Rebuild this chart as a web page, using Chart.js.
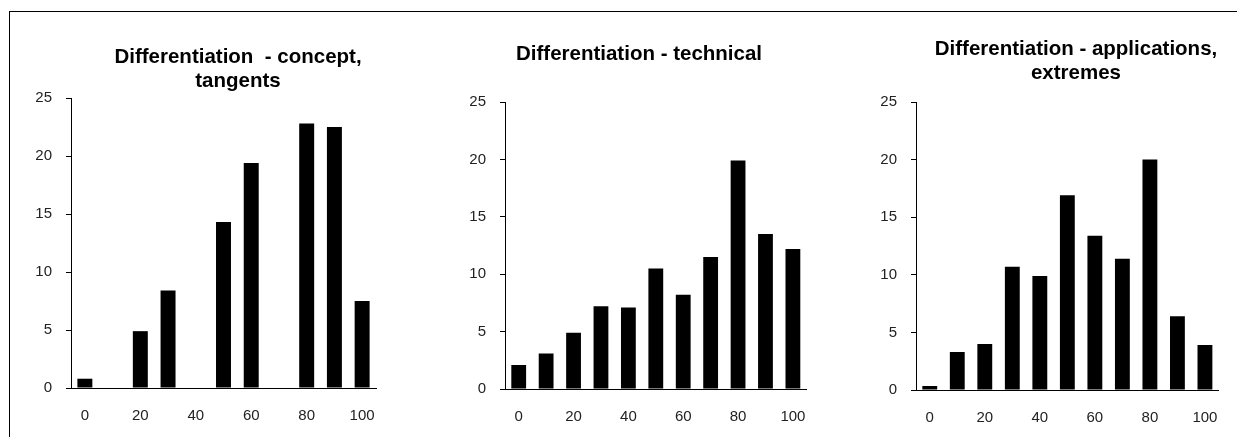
<!DOCTYPE html>
<html>
<head>
<meta charset="utf-8">
<script src="https://cdn.jsdelivr.net/npm/chart.js@4/dist/chart.umd.min.js"></script>
<style>
    body { margin: 0; background: #fff; width: 1237px; height: 437px; overflow: hidden; position: relative; }
    .frame { position: absolute; left: 9px; top: 11px; width: 1228px; height: 426px; border-top: 1px solid #000; border-left: 1px solid #000; }
    .chart-box { position: absolute; top: 12px; }
    .chart-title { position: absolute; width: 400px; text-align: center; white-space: pre; font: bold 20.5px "Liberation Sans", Arial, sans-serif; line-height: 24px; color: #000; }
</style>
</head>
<body>
<div class="frame"></div>
<canvas id="chart1" class="chart-box" width="400" height="425" style="left:10px"></canvas>
<canvas id="chart2" class="chart-box" width="405" height="425" style="left:420px"></canvas>
<canvas id="chart3" class="chart-box" width="407" height="425" style="left:830px"></canvas>

<script>
// Score bands (x axis)
const categories = [0, 10, 20, 30, 40, 50, 60, 70, 80, 90, 100];

// Percentage of students per band
const conceptTangents = [0.8, 0, 4.9, 8.4, 0, 14.3, 19.4, 0, 22.8, 22.5, 7.5];
const technical = [2.1, 3.1, 4.9, 7.2, 7.1, 10.5, 8.2, 11.5, 19.9, 13.5, 12.2];
const applicationsExtremes = [0.35, 3.3, 4.0, 10.7, 9.9, 16.9, 13.4, 11.4, 20.0, 6.4, 3.9];

// Y axis ticks
const yTicks = [0, 5, 10, 15, 20, 25];

const titles = [
    ['Differentiation  - concept,', 'tangents'],
    ['Differentiation - technical'],
    ['Differentiation - applications,', 'extremes']
];

// Layout of each panel (page pixels)
const panels = [
    { id: 'chart1', data: conceptTangents, titleX: 238, titleY: 44, pad: { left: 21, right: 34, top: 86, bottom: 9 } },
    { id: 'chart2', data: technical, titleX: 639, titleY: 41, pad: { left: 45, right: 13, top: 90, bottom: 8 } },
    { id: 'chart3', data: applicationsExtremes, titleX: 1076, titleY: 36, pad: { left: 46, right: 12, top: 90, bottom: 7 } }
];

const tickFont = { family: '"Liberation Sans", Arial, sans-serif', size: 15 };

function addTitle(lines, x, y) {
    const div = document.createElement('div');
    div.className = 'chart-title';
    div.style.left = (x - 200) + 'px';
    div.style.top = y + 'px';
    div.textContent = lines.join('\n');
    document.body.appendChild(div);
}

function drawPanel(panel, index) {
    addTitle(titles[index], panel.titleX, panel.titleY);

    new Chart(document.getElementById(panel.id), {
        type: 'bar',
        data: {
            labels: categories.map(String),
            datasets: [{
                data: panel.data,
                backgroundColor: '#000',
                borderWidth: 0,
                barPercentage: 0.54,
                categoryPercentage: 1
            }]
        },
        options: {
            responsive: false,
            animation: false,
            layout: { padding: panel.pad },
            plugins: {
                legend: { display: false },
                title: { display: false },
                tooltip: { enabled: false }
            },
            scales: {
                x: {
                    grid: { display: false, drawTicks: false },
                    border: { display: true, color: '#000', width: 1 },
                    ticks: {
                        autoSkip: false,
                        maxRotation: 0,
                        padding: 19,
                        color: '#222',
                        font: tickFont,
                        // only every other band gets a label
                        callback: function (value, i) {
                            return i % 2 === 0 ? this.getLabelForValue(value) : '';
                        }
                    },
                    afterFit: scale => { scale.height = 40; }
                },
                y: {
                    min: yTicks[0],
                    max: yTicks[yTicks.length - 1],
                    grid: { display: true, drawOnChartArea: false, drawTicks: true, tickLength: 5, color: '#000' },
                    border: { display: true, color: '#000', width: 1 },
                    ticks: {
                        stepSize: 5,
                        padding: 14,
                        color: '#222',
                        font: tickFont
                    },
                    afterFit: scale => { scale.width = 40; }
                }
            }
        }
    });
}

panels.forEach(drawPanel);
</script>
</body>
</html>
